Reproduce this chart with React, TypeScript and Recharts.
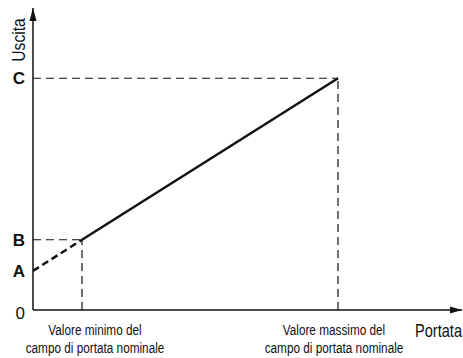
import { Line, LineChart, ReferenceDot, ReferenceLine, XAxis, YAxis } from "recharts";

// schematic units: x = flow, y = output
const X_MAX = 429;
const Y_MAX = 301;
const X_MIN_FLOW = 49;
const X_MAX_FLOW = 305;
const Y_A = 39;
const Y_B = 70;
const Y_C = 231;

const yTicks = [0, Y_A, Y_B, Y_C];
const yTickLabels = ["0", "A", "B", "C"];
const xTicks = [X_MIN_FLOW, X_MAX_FLOW];
const xTickLabels = [
  ["Valore minimo del", "campo di portata nominale"],
  ["Valore massimo del", "campo di portata nominale"],
];

// dashed part below the minimum, solid part in the rated range
const extrapolated = [Y_A, Y_B];
const rated = [Y_B, Y_C];

const data = [
  { x: 0, low: extrapolated[0], high: null },
  { x: X_MIN_FLOW, low: extrapolated[1], high: rated[0] },
  { x: X_MAX_FLOW, low: null, high: rated[1] },
];

const FONT = "'Liberation Sans', Arial, sans-serif";
const INK = "#111";
// the first label sits a bit right of its guide so it stays on the page
const LABEL_SHIFT = [13, -4];

function YTick({ x, y, payload }: any) {
  const label = yTickLabels[yTicks.indexOf(payload.value)];
  const bold = label !== "0";
  return (
    <text
      x={x}
      y={y + (bold ? 0 : 3)}
      dy="0.36em"
      textAnchor="end"
      fontFamily={FONT}
      fontWeight={bold ? 700 : 400}
      fontSize={17}
      fill={INK}
    >
      {label}
    </text>
  );
}

function XTick({ x, y, payload }: any) {
  const i = xTicks.indexOf(payload.value);
  const lines = xTickLabels[i];
  return (
    <g transform={`translate(${x + LABEL_SHIFT[i]},${y}) scale(0.76,1)`}>
      <text textAnchor="middle" fontFamily={FONT} fontSize={15.5} fill={INK}>
        <tspan x={0} y={25}>
          {lines[0]}
        </tspan>
        <tspan x={0} y={43}>
          {lines[1]}
        </tspan>
      </text>
    </g>
  );
}

function ArrowRight({ cx, cy }: any) {
  return <polygon points={`${cx},${cy} ${cx - 12},${cy - 3.5} ${cx - 12},${cy + 3.5}`} fill={INK} />;
}

function ArrowUp({ cx, cy }: any) {
  return <polygon points={`${cx},${cy} ${cx - 3.5},${cy + 13} ${cx + 3.5},${cy + 13}`} fill={INK} />;
}

export default function App() {
  return (
    <div style={{ position: "fixed", left: 0, top: 0, background: "#fff" }}>
      <LineChart width={463} height={358} data={data} margin={{ top: 8, right: 1, bottom: 0, left: 0 }}>
        <XAxis
          dataKey="x"
          type="number"
          domain={[0, X_MAX]}
          ticks={xTicks}
          tick={<XTick />}
          tickLine={false}
          tickSize={0}
          tickMargin={0}
          height={48}
          axisLine={{ stroke: INK, strokeWidth: 1.5 }}
          label={{
            content: ({ viewBox }: any) => (
              <g transform={`translate(${viewBox.x + viewBox.width},${viewBox.y + 27}) scale(0.81,1)`}>
                <text x={0} y={0} textAnchor="end" fontFamily={FONT} fontSize={18} fill={INK}>
                  Portata
                </text>
              </g>
            ),
          }}
        />
        <YAxis
          type="number"
          domain={[0, Y_MAX]}
          ticks={yTicks}
          tick={<YTick />}
          tickLine={false}
          tickSize={0}
          tickMargin={8}
          width={33}
          axisLine={{ stroke: INK, strokeWidth: 1.5 }}
          label={{
            content: ({ viewBox }: any) => (
              <g transform={`translate(${viewBox.x + 25},${viewBox.y + 32}) rotate(-90) scale(0.87,1)`}>
                <text x={0} y={0} textAnchor="middle" fontFamily={FONT} fontSize={18} fill={INK}>
                  Uscita
                </text>
              </g>
            ),
          }}
        />
        <ReferenceLine
          segment={[{ x: 0, y: Y_B }, { x: X_MIN_FLOW, y: Y_B }]}
          stroke={INK}
          strokeWidth={1.2}
          strokeDasharray="8 5"
        />
        <ReferenceLine
          segment={[{ x: X_MIN_FLOW, y: 0 }, { x: X_MIN_FLOW, y: Y_B }]}
          stroke={INK}
          strokeWidth={1.2}
          strokeDasharray="8 5"
        />
        <ReferenceLine
          segment={[{ x: 0, y: Y_C }, { x: X_MAX_FLOW, y: Y_C }]}
          stroke={INK}
          strokeWidth={1.2}
          strokeDasharray="8 5"
        />
        <ReferenceLine
          segment={[{ x: X_MAX_FLOW, y: 0 }, { x: X_MAX_FLOW, y: Y_C }]}
          stroke={INK}
          strokeWidth={1.2}
          strokeDasharray="8 5"
        />
        <Line
          dataKey="low"
          stroke={INK}
          strokeWidth={2.5}
          strokeDasharray="7 4"
          dot={false}
          activeDot={false}
          isAnimationActive={false}
        />
        <Line
          dataKey="high"
          stroke={INK}
          strokeWidth={2.5}
          dot={false}
          activeDot={false}
          isAnimationActive={false}
        />
        <ReferenceDot x={X_MAX} y={0} shape={<ArrowRight />} ifOverflow="visible" />
        <ReferenceDot x={0} y={Y_MAX} shape={<ArrowUp />} ifOverflow="visible" />
      </LineChart>
    </div>
  );
}
